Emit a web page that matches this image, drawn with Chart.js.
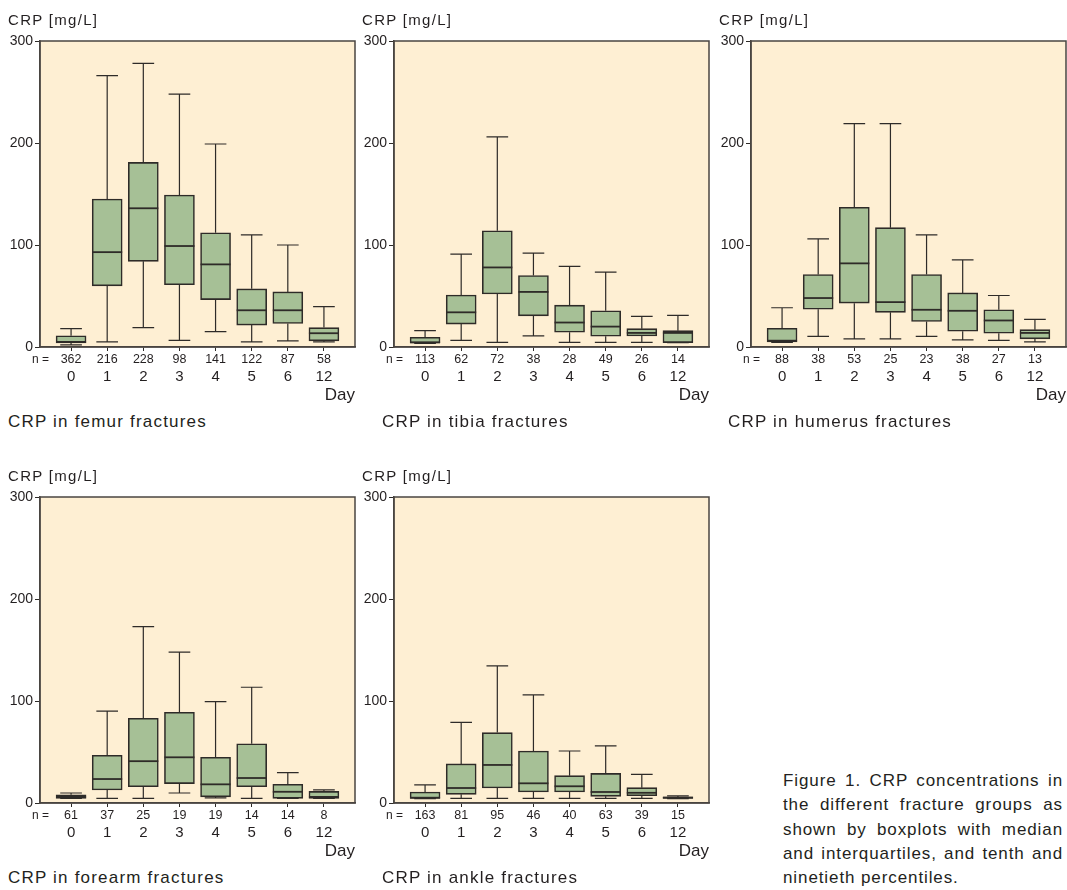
<!DOCTYPE html>
<html>
<head>
<meta charset="utf-8">
<script src="https://cdn.jsdelivr.net/npm/chart.js@4.4.1/dist/chart.umd.min.js"></script>
<style>
  html, body { margin:0; padding:0; background:#fff; width:1067px; height:890px; overflow:hidden; }
  body { font-family: 'Liberation Sans', Arial, Helvetica, sans-serif; color:#231f20; position:relative; }
  .panel { position:absolute; width:357px; height:440px; }
  .panel canvas { position:absolute; left:0; top:0; }
  .ylab { position:absolute; left:8px; top:11px; font-size:15px; letter-spacing:1.3px; line-height:18px; white-space:nowrap; }
  .nlab { position:absolute; left:32px; top:352px; font-size:12px; line-height:14px; white-space:nowrap; }
  .cap { position:absolute; top:411px; font-size:17px; letter-spacing:1.2px; line-height:22px; white-space:nowrap; }
  #fig { position:absolute; left:783px; top:769px; width:280px; font-size:17px; letter-spacing:0.9px; line-height:24.3px; }
  #fig div { text-align:justify; text-align-last:justify; white-space:nowrap; }
  #fig div.last { text-align-last:left; }
</style>
</head>
<body>
<div class="panel" id="p0" style="left:0px;top:0px;"><canvas id="c0" width="357" height="406"></canvas><div class="ylab">CRP [mg/L]</div><div class="nlab">n =</div><div class="cap" style="left:8px">CRP in femur fractures</div></div>
<div class="panel" id="p1" style="left:354px;top:0px;"><canvas id="c1" width="357" height="406"></canvas><div class="ylab">CRP [mg/L]</div><div class="nlab">n =</div><div class="cap" style="left:28px">CRP in tibia fractures</div></div>
<div class="panel" id="p2" style="left:711px;top:0px;"><canvas id="c2" width="357" height="406"></canvas><div class="ylab">CRP [mg/L]</div><div class="nlab">n =</div><div class="cap" style="left:17px">CRP in humerus fractures</div></div>
<div class="panel" id="p3" style="left:0px;top:456px;"><canvas id="c3" width="357" height="406"></canvas><div class="ylab">CRP [mg/L]</div><div class="nlab">n =</div><div class="cap" style="left:8px">CRP in forearm fractures</div></div>
<div class="panel" id="p4" style="left:354px;top:456px;"><canvas id="c4" width="357" height="406"></canvas><div class="ylab">CRP [mg/L]</div><div class="nlab">n =</div><div class="cap" style="left:28px">CRP in ankle fractures</div></div>
<div id="fig">
  <div>Figure 1. CRP concentrations in</div>
  <div>the different fracture groups as</div>
  <div>shown by boxplots with median</div>
  <div>and interquartiles, and tenth and</div>
  <div class="last">ninetieth percentiles.</div>
</div>
<script>
// ---- data ----
const days = ['0', '1', '2', '3', '4', '5', '6', '12'];
const yTicks = [0, 100, 200, 300];

const femurN   = [362, 216, 228, 98, 141, 122, 87, 58];
const femurP10 = [2, 5, 19, 6.5, 15, 5, 6, 5];
const femurQ1  = [4, 60, 84, 61, 46.5, 21.5, 23, 6];
const femurMed = [5, 93, 136, 99, 81, 36, 36, 13.5];
const femurQ3  = [11, 145, 181, 149, 112, 57, 54, 19];
const femurP90 = [18, 266, 278, 248, 199, 110, 100, 39.5];

const tibiaN   = [113, 62, 72, 38, 28, 49, 26, 14];
const tibiaP10 = [3.5, 6.5, 4.5, 11, 4.5, 4.5, 4.5, 4.3];
const tibiaQ1  = [4, 22.5, 52, 30.5, 14.5, 10.5, 10.8, 4.3];
const tibiaMed = [4.5, 34, 78, 54, 24, 20, 13.8, 13.8];
const tibiaQ3  = [9.5, 51, 114, 70, 41, 35.5, 18, 16];
const tibiaP90 = [16, 91, 206, 92, 79, 73.5, 30, 31];

const humerusN   = [88, 38, 53, 25, 23, 38, 27, 13];
const humerusP10 = [4.5, 10.5, 8, 8, 10.5, 7, 6.5, 5];
const humerusQ1  = [5, 37, 43, 34, 25, 15.5, 13.5, 8];
const humerusMed = [6.2, 48, 82, 44, 36.5, 35.5, 26, 13.8];
const humerusQ3  = [18.3, 71, 137, 117, 71, 53, 36.5, 17];
const humerusP90 = [38.5, 106, 219, 219, 110, 85.5, 50.5, 27];

const forearmN   = [61, 37, 25, 19, 19, 14, 14, 8];
const forearmP10 = [4.5, 4.6, 4.6, 9.8, 5, 4.6, 4.6, 4.6];
const forearmQ1  = [4.6, 12.8, 16, 19, 6, 16, 4.6, 4.6];
const forearmMed = [6, 23.5, 41, 44.8, 18.3, 24.5, 11, 6];
const forearmQ3  = [8, 46.8, 83, 89, 44.8, 58, 18.3, 11.4];
const forearmP90 = [9.8, 90, 173, 148, 99.4, 113.5, 29.8, 12.8];

const ankleN   = [163, 81, 95, 46, 40, 63, 39, 15];
const ankleP10 = [4.3, 4.6, 4.6, 4.6, 4.6, 4.6, 4.6, 4.3];
const ankleQ1  = [4.5, 8.5, 14.7, 10.8, 10.8, 6.5, 7.2, 4.5];
const ankleMed = [5.2, 14.7, 37.3, 19.3, 16.4, 10.8, 10, 5.2];
const ankleQ3  = [10.8, 38.3, 69, 51, 26.8, 29, 15, 6];
const ankleP90 = [17.7, 79, 134.4, 106, 51, 56, 28, 6.9];

const panels = [
  { id: 'c0', n: femurN,   p10: femurP10,   q1: femurQ1,   med: femurMed,   q3: femurQ3,   p90: femurP90 },
  { id: 'c1', n: tibiaN,   p10: tibiaP10,   q1: tibiaQ1,   med: tibiaMed,   q3: tibiaQ3,   p90: tibiaP90 },
  { id: 'c2', n: humerusN, p10: humerusP10, q1: humerusQ1, med: humerusMed, q3: humerusQ3, p90: humerusP90 },
  { id: 'c3', n: forearmN, p10: forearmP10, q1: forearmQ1, med: forearmMed, q3: forearmQ3, p90: forearmP90 },
  { id: 'c4', n: ankleN,   p10: ankleP10,   q1: ankleQ1,   med: ankleMed,   q3: ankleQ3,   p90: ankleP90 }
];

// ---- styling ----
const FONT = "'Liberation Sans', Arial, Helvetica, sans-serif";
const TEXT = '#231f20';
const BG = '#feefd3';
const BOX = '#a6c096';
const LINE = '#2e2b28';
const XMIN = -0.86, XMAX = 7.86;

function makeBoxPlugin(p) {
  return {
    id: 'boxExtras',
    beforeDraw(chart) {
      const { ctx, chartArea: a } = chart;
      ctx.save();
      ctx.fillStyle = BG;
      ctx.fillRect(a.left, a.top, a.right - a.left, a.bottom - a.top);
      ctx.restore();
    },
    afterDatasetsDraw(chart) {
      const { ctx } = chart;
      const xs = chart.scales.x, ys = chart.scales.y;
      const capHalf = xs.getPixelForValue(0.3) - xs.getPixelForValue(0);
      const boxHalf = 15;
      ctx.save();
      ctx.strokeStyle = LINE;
      ctx.lineWidth = 1.2;
      for (let i = 0; i < days.length; i++) {
        const cx = xs.getPixelForValue(i);
        const yP10 = ys.getPixelForValue(p.p10[i]);
        const yQ1 = ys.getPixelForValue(p.q1[i]);
        const yQ3 = ys.getPixelForValue(p.q3[i]);
        const yP90 = ys.getPixelForValue(p.p90[i]);
        ctx.beginPath();
        ctx.moveTo(cx, yQ3); ctx.lineTo(cx, yP90);
        ctx.moveTo(cx - capHalf, yP90); ctx.lineTo(cx + capHalf, yP90);
        ctx.moveTo(cx, yQ1); ctx.lineTo(cx, yP10);
        ctx.moveTo(cx - capHalf, yP10); ctx.lineTo(cx + capHalf, yP10);
        ctx.stroke();
      }
      ctx.lineWidth = 1.8;
      for (let i = 0; i < days.length; i++) {
        const cx = xs.getPixelForValue(i);
        const yM = ys.getPixelForValue(p.med[i]);
        ctx.beginPath();
        ctx.moveTo(cx - boxHalf, yM); ctx.lineTo(cx + boxHalf, yM);
        ctx.stroke();
      }
      const a = chart.chartArea;
      ctx.strokeStyle = '#4a4541';
      ctx.lineWidth = 1.5;
      ctx.strokeRect(a.left, a.top, a.right - a.left, a.bottom - a.top);
      ctx.restore();
    }
  };
}

function fixedTicks(values) {
  return function (scale) { scale.ticks = values.map(v => ({ value: v })); };
}

panels.forEach(p => {
  const idx = days.map((d, i) => i);
  new Chart(document.getElementById(p.id), {
    type: 'bar',
    data: {
      datasets: [{
        data: idx.map(i => ({ x: i, y: [p.q1[i], p.q3[i]] })),
        backgroundColor: BOX,
        borderColor: LINE,
        borderWidth: 1.6,
        borderSkipped: false,
        barThickness: 30
      }]
    },
    options: {
      responsive: false,
      animation: false,
      devicePixelRatio: 1,
      layout: { padding: { top: 41, right: 2, bottom: 0, left: 0 } },
      plugins: { legend: { display: false }, tooltip: { enabled: false }, title: { display: false } },
      scales: {
        x: {
          type: 'linear', position: 'bottom', min: XMIN, max: XMAX, offset: false,
          afterBuildTicks: fixedTicks(idx),
          afterFit(s) { s.height = 18; },
          grid: { display: true, drawOnChartArea: false, drawTicks: true, tickLength: 4, color: LINE, lineWidth: 1, offset: false },
          border: { display: true, color: '#4a4541', width: 1.5 },
          ticks: { autoSkip: false, maxRotation: 0, padding: 1, color: TEXT, font: { family: FONT, size: 12.5 },
                   callback: (v) => String(p.n[Math.round(v)]) }
        },
        x2: {
          type: 'linear', position: 'bottom', min: XMIN, max: XMAX, offset: false,
          afterBuildTicks: fixedTicks(idx),
          afterFit(s) { s.height = 41; },
          grid: { display: false, drawTicks: false, offset: false },
          border: { display: false },
          ticks: { autoSkip: false, maxRotation: 0, padding: 3, color: TEXT, font: { family: FONT, size: 15 },
                   callback: (v) => days[Math.round(v)] },
          title: { display: true, text: 'Day', align: 'end', color: TEXT, font: { family: FONT, size: 17 }, padding: { top: 0, bottom: 0 } }
        },
        y: {
          type: 'linear', position: 'left', min: 0, max: 300,
          afterBuildTicks: fixedTicks(yTicks),
          afterFit(s) { s.width = 40; },
          grid: { display: true, drawOnChartArea: false, drawTicks: true, tickLength: 5, color: LINE, lineWidth: 1 },
          border: { display: true, color: '#4a4541', width: 1.5 },
          ticks: { padding: 2, color: TEXT, font: { family: FONT, size: 14 } }
        }
      }
    },
    plugins: [makeBoxPlugin(p)]
  });
});
</script>
</body>
</html>
